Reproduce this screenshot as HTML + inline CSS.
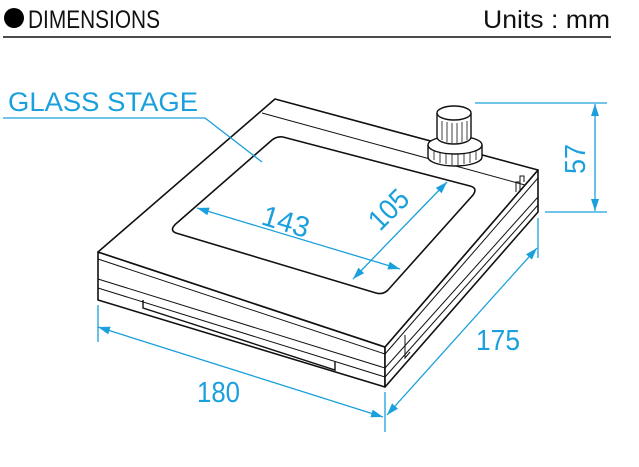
<!DOCTYPE html>
<html><head><style>
html,body{margin:0;padding:0;background:#fff;width:639px;height:467px;overflow:hidden}
svg{display:block}
</style></head><body>
<svg width="639" height="467" viewBox="0 0 639 467" xmlns="http://www.w3.org/2000/svg" font-family="Liberation Sans, sans-serif">
<defs>
<marker id="a" viewBox="0 0 12 8" refX="12" refY="4" markerWidth="12" markerHeight="8" orient="auto-start-reverse" markerUnits="userSpaceOnUse"><path d="M0,0L12,4L0,8z" fill="#1aa0dc"/></marker>
</defs>
<!-- header -->
<circle cx="14" cy="18" r="10" fill="#000"/>
<text x="28" y="28" font-size="25" fill="#111" textLength="132" lengthAdjust="spacingAndGlyphs">DIMENSIONS</text>
<text x="483" y="28" font-size="25" fill="#111" textLength="127" lengthAdjust="spacingAndGlyphs">Units : mm</text>
<line x1="3" y1="37" x2="611" y2="37" stroke="#111" stroke-width="1.6"/>
<!-- glass stage label -->
<text x="8" y="111" font-size="27" fill="#1aa0dc" textLength="190" lengthAdjust="spacingAndGlyphs">GLASS STAGE</text>
<!-- body -->
<g fill="#fff" stroke="#111" stroke-linejoin="round">
<polygon points="98,252 385,347 385,387 98,300" stroke-width="1.6"/>
<polygon points="385,347 538,170 538,212 385,387" stroke-width="1.6"/>
<polygon points="98,252 275,99 538,170 385,347" stroke-width="1.6"/>
</g>
<g stroke="#111" fill="none" stroke-width="1">
<line x1="98" y1="259" x2="385" y2="354"/>
<line x1="98" y1="279" x2="385" y2="368"/>
<line x1="98" y1="288" x2="385" y2="377"/>
<line x1="385" y1="354" x2="538" y2="178"/>
<line x1="385" y1="368" x2="538" y2="197"/>
<line x1="385" y1="377" x2="538" y2="205"/>
<line x1="262" y1="113" x2="525" y2="185"/>
<polyline points="143,300 143,308 335,370 335,362" stroke-width="1.4"/>
<polyline points="405,335 405,358 410,352"/>
<path d="M516,192 v-10 h4 v-6 h4 v6 M520,192 v-10"/>
</g>
<!-- glass stage -->
<path d="M178,222 L272,140 Q277,136 283,137 L470,186 Q478,188 473,195 L388,290 Q383,295 376,293 L176,233 Q168,230 178,222 Z" fill="#fff" stroke="#111" stroke-width="1.6"/>
<polyline points="3,118 205,118 262,162" fill="none" stroke="#1aa0dc" stroke-width="1.3"/>
<!-- knob -->
<g stroke="#111" fill="#fff" stroke-width="1.4">
<path d="M428,145 v12 a27,9 0 0 0 54,0 v-12"/>
<ellipse cx="455" cy="145" rx="27" ry="9"/>
<g stroke-width="0.8"><line x1="434" y1="150" x2="434" y2="160"/><line x1="440" y1="152" x2="440" y2="163"/><line x1="446" y1="153" x2="446" y2="164"/><line x1="452" y1="154" x2="452" y2="165"/><line x1="458" y1="154" x2="458" y2="165"/><line x1="464" y1="153" x2="464" y2="164"/><line x1="470" y1="152" x2="470" y2="163"/><line x1="476" y1="150" x2="476" y2="160"/></g>
<path d="M437,113 v24 a17,7 0 0 0 34,0 v-24"/>
<ellipse cx="454" cy="113" rx="17" ry="7"/>
<g stroke-width="0.8"><line x1="442" y1="121" x2="442" y2="140"/><line x1="447" y1="122" x2="447" y2="142"/><line x1="452" y1="123" x2="452" y2="143"/><line x1="457" y1="123" x2="457" y2="143"/><line x1="462" y1="122" x2="462" y2="142"/><line x1="467" y1="121" x2="467" y2="140"/></g>
</g>
<!-- dimensions -->
<g stroke="#1aa0dc" stroke-width="1.3" fill="none">
<line x1="98" y1="305" x2="98" y2="342"/>
<line x1="385" y1="392" x2="385" y2="432"/>
<line x1="538" y1="218" x2="538" y2="258"/>
<line x1="475" y1="103" x2="607" y2="103"/>
<line x1="545" y1="212" x2="607" y2="212"/>
<line x1="98" y1="327" x2="383" y2="417" marker-start="url(#a)" marker-end="url(#a)"/>
<line x1="387" y1="415" x2="537" y2="248" marker-start="url(#a)" marker-end="url(#a)"/>
<line x1="595" y1="104" x2="595" y2="211" marker-start="url(#a)" marker-end="url(#a)"/>
<line x1="197" y1="208" x2="400" y2="269" marker-start="url(#a)" marker-end="url(#a)"/>
<line x1="353" y1="279" x2="447" y2="182" marker-start="url(#a)" marker-end="url(#a)"/>
</g>
<g fill="#1aa0dc" font-size="29">
<text x="197" y="402" textLength="43" lengthAdjust="spacingAndGlyphs">180</text>
<text x="476" y="350" textLength="44" lengthAdjust="spacingAndGlyphs">175</text>
<text x="0" y="0" transform="translate(585,174) rotate(-90)" textLength="30" lengthAdjust="spacingAndGlyphs">57</text>
<text x="0" y="0" transform="translate(260,224) rotate(17)" textLength="48" lengthAdjust="spacingAndGlyphs">143</text>
<text x="0" y="0" transform="translate(380,232) rotate(-45)" textLength="44" lengthAdjust="spacingAndGlyphs">105</text>
</g>
</svg>
</body></html>
